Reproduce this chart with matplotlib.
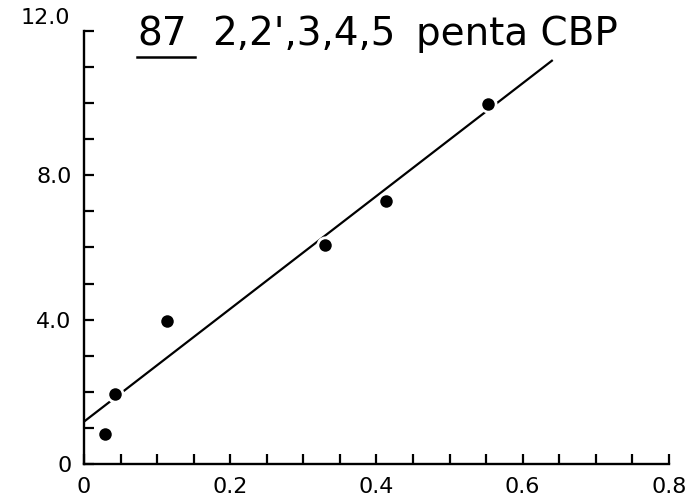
"""
87 2,2',3,4,5 penta CBP - scatter with fitted line
"""

import matplotlib
matplotlib.use('Agg')
import matplotlib.pyplot as plt
from matplotlib.lines import Line2D
import numpy as np

# data
x_vals = [0.029, 0.043, 0.114, 0.329, 0.413, 0.552]
y_vals = [0.83, 1.94, 3.97, 6.07, 7.28, 9.96]

# fitted line
fit_intercept = 1.18
fit_slope = 15.6
fit_x = [0.0, 0.64]

x_ticks = np.arange(0, 0.81, 0.05)
y_ticks = np.arange(0, 13, 1)
x_labels = {0.0: '0', 0.2: '0.2', 0.4: '0.4', 0.6: '0.6', 0.8: '0.8'}
y_labels = {0: '0', 4: '4.0', 8: '8.0'}

plt.rcParams['font.family'] = ['DejaVu Sans']

fig = plt.figure(figsize=(6.92, 5.01), dpi=100)
ax = fig.add_axes([0.1214, 0.0733, 0.8451, 0.8658])

fit_y = [fit_intercept + fit_slope * v for v in fit_x]
ax.plot(fit_x, fit_y, color='black', lw=1.6, zorder=2)

# white halo so the line breaks around the dots
ax.plot(x_vals, y_vals, 'o', color='white', ms=13, mew=0, zorder=3)
ax.plot(x_vals, y_vals, 'o', color='black', ms=9, mew=0, zorder=4)

ax.set_xlim(0, 0.8)
ax.set_ylim(0, 12)

for side in ['top', 'right']:
    ax.spines[side].set_visible(False)
for side in ['left', 'bottom']:
    ax.spines[side].set_linewidth(1.7)

ax.set_xticks(x_ticks)
ax.set_xticklabels([x_labels.get(round(t, 2), '') for t in x_ticks])
ax.set_yticks(y_ticks)
ax.set_yticklabels([y_labels.get(int(t), '') for t in y_ticks])

ax.tick_params(axis='both', direction='in', length=7.5, width=1.6, labelsize=16)
ax.tick_params(axis='x', pad=9.5)
ax.tick_params(axis='y', pad=9)

# top label sits above its tick
ax.annotate('12.0', xy=(0, 12), xytext=(-10, 9), textcoords='offset points',
            ha='right', va='center', fontsize=16)

# title pieces
fig.text(137 / 692, (501 - 45) / 501, '87', fontsize=28, ha='left', va='baseline')
fig.text(212 / 692, (501 - 45) / 501, "2,2',3,4,5", fontsize=28, ha='left', va='baseline')
fig.text(416 / 692, (501 - 45) / 501, 'penta CBP', fontsize=28, ha='left', va='baseline')
fig.add_artist(Line2D([137 / 692, 195 / 692], [(501 - 56.7) / 501] * 2,
                      transform=fig.transFigure, color='black', lw=1.8))

plt.savefig('out.png', dpi=100)
